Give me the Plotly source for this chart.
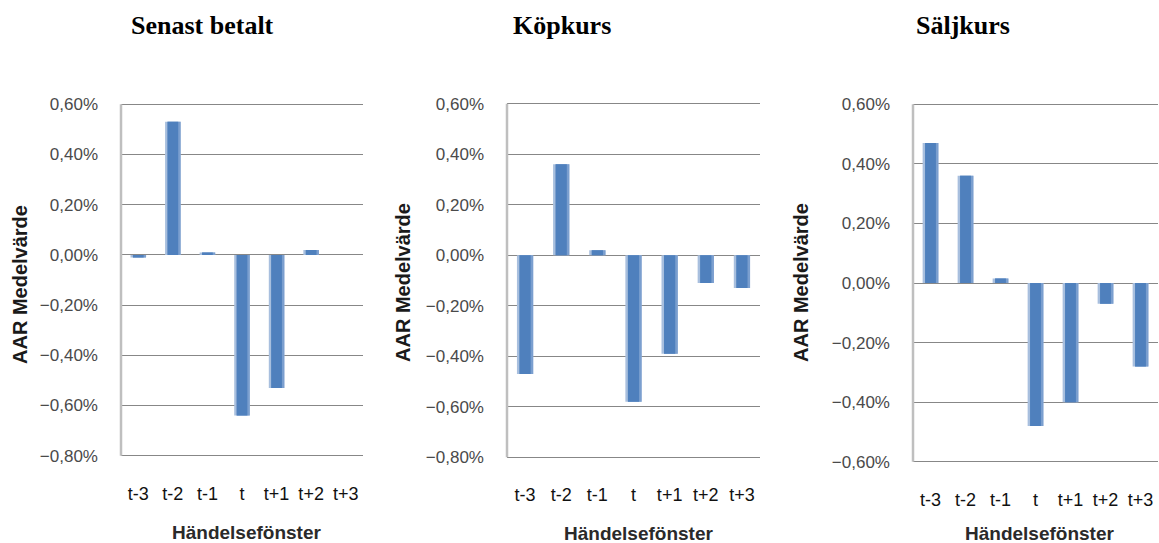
import plotly.graph_objects as go

W, H = 1159, 543

categories = ["t-3", "t-2", "t-1", "t", "t+1", "t+2", "t+3"]
titles = ["Senast betalt", "Köpkurs", "Säljkurs"]
senast_betalt = [-0.0001, 0.0053, 0.0001, -0.0064, -0.0053, 0.0002, 0.0]
kopkurs = [-0.0047, 0.0036, 0.0002, -0.0058, -0.0039, -0.0011, -0.0013]
saljkurs = [0.0047, 0.0036, 0.00015, -0.0048, -0.0040, -0.0007, -0.0028]
series = [senast_betalt, kopkurs, saljkurs]

y_limits = [(-0.008, 0.006), (-0.008, 0.006), (-0.006, 0.006)]
y_title = "AAR Medelvärde"
x_title = "Händelsefönster"

# pixel geometry of the three plot areas: (left, right, top, bottom)
boxes = [(121, 363, 104.3, 455.7), (507, 760, 103.7, 457.3), (913, 1158, 104.3, 461.7)]
title_pos = [(202, 26), (562, 26), (963, 26)]
ytitle_pos = [(20, 285), (403, 283), (801, 283)]
xtitle_pos = [(247, 532), (638, 533), (1039, 533)]
PAD_PX = 2  # small extension so that edge gridlines are drawn

fig = go.Figure()

def px_x(x):
    return x / W

def px_y(y):
    return 1 - y / H

for i, vals in enumerate(series):
    n = "" if i == 0 else str(i + 1)
    xa, ya = "x" + n, "y" + n
    fig.add_trace(go.Bar(x=categories, y=vals, xaxis=xa, yaxis=ya, width=0.45,
                         marker=dict(color="#A8BFDE", line=dict(width=0)),
                         showlegend=False, hoverinfo="skip"))
    fig.add_trace(go.Bar(x=categories, y=vals, xaxis=xa, yaxis=ya, width=0.38, offset=-0.155,
                         marker=dict(color="#7B9FCF", line=dict(width=0)),
                         showlegend=False, hoverinfo="skip"))
    fig.add_trace(go.Bar(x=categories, y=vals, xaxis=xa, yaxis=ya, width=0.31, offset=-0.155,
                         marker=dict(color="#4F80BD", line=dict(width=0)),
                         showlegend=False))
    l, r, t, b = boxes[i]
    lo, hi = y_limits[i]
    per_px = (hi - lo) / (b - t)
    pad = PAD_PX * per_px
    fig.layout["xaxis" + n] = dict(
        domain=[px_x(l), px_x(r)], anchor=ya, type="category",
        showgrid=False, zeroline=False, showline=False, ticks="",
        tickfont=dict(family="Liberation Sans, Arial", size=18, color="#111111"),
        ticklabelstandoff=int(25 - PAD_PX), fixedrange=True, automargin=False,
    )
    fig.layout["yaxis" + n] = dict(
        domain=[px_y(b + PAD_PX), px_y(t - PAD_PX)], anchor=xa, range=[lo - pad, hi + pad],
        dtick=0.002, tick0=0,
        tickformat=".2%", showgrid=True, gridcolor="#878787", gridwidth=1.3,
        zeroline=True, zerolinecolor="#878787", zerolinewidth=1.3,
        showline=False, ticks="",
        tickfont=dict(family="Liberation Sans, Arial", size=17, color="#4a4a4a"),
        ticklabelstandoff=22, fixedrange=True, automargin=False,
    )
    fig.add_annotation(text="<b>%s</b>" % titles[i], x=px_x(title_pos[i][0]), y=px_y(title_pos[i][1]),
                       xref="paper", yref="paper", showarrow=False, xanchor="center", yanchor="middle",
                       font=dict(family="Liberation Serif, Times New Roman", size=26, color="#000000"))
    fig.add_annotation(text="<b>%s</b>" % y_title, x=px_x(ytitle_pos[i][0]), y=px_y(ytitle_pos[i][1]),
                       xref="paper", yref="paper", showarrow=False, textangle=-90,
                       xanchor="center", yanchor="middle",
                       font=dict(family="Liberation Sans, Arial", size=20, color="#1a1a1a"))
    fig.add_annotation(text="<b>%s</b>" % x_title, x=px_x(xtitle_pos[i][0]), y=px_y(xtitle_pos[i][1]),
                       xref="paper", yref="paper", showarrow=False,
                       xanchor="center", yanchor="middle",
                       font=dict(family="Liberation Sans, Arial", size=19, color="#2a2a2a"))
    # vertical axis line from the bottom limit to the top limit
    fig.add_shape(type="line", xref=xa + " domain", yref=ya, x0=0, x1=0, y0=lo, y1=hi,
                  line=dict(color="#BFBFBF", width=2.5), layer="above")

fig.update_layout(
    width=W, height=H, barmode="overlay", separators=", ",
    margin=dict(l=0, r=0, t=0, b=0, autoexpand=False),
    paper_bgcolor="white", plot_bgcolor="white",
)

post = (
    "var gd=document.getElementById('{plot_id}');"
    "gd.style.position='fixed';gd.style.left='0px';gd.style.top='0px';"
    "document.body.style.margin='0px';"
    "document.body.style.overflow='hidden';"
    "document.documentElement.style.overflow='hidden';"
)

fig.write_html("out.html", config={"displayModeBar": False}, post_script=post)
